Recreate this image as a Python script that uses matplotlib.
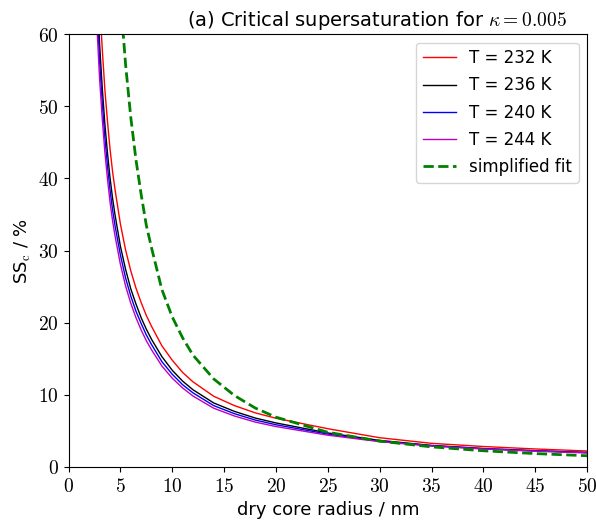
import matplotlib
matplotlib.use('Agg')
import matplotlib.pyplot as plt
from matplotlib.ticker import FuncFormatter, MultipleLocator

plt.rcParams['mathtext.fontset'] = 'cm'
plt.rcParams['font.family'] = 'DejaVu Sans'

# dry core radius (nm)
radius = [2.6, 2.8, 3.0, 3.25, 3.5, 3.75, 4.0, 4.25, 4.5, 5.0, 5.5, 6.0, 6.5,
          7.0, 7.5, 8.0, 9.0, 10, 11, 12, 14, 16, 18, 20, 25, 30, 35, 40, 45, 50]

# critical supersaturation (%) for each temperature
ss_232 = [78.5, 71.2, 64.4, 58.0, 52.4, 48.0, 44.1, 40.9, 38.3, 33.7, 30.1,
          27.2, 24.8, 22.8, 21.0, 19.5, 16.8, 14.8, 13.1, 11.8, 9.8, 8.5, 7.5,
          6.75, 5.3, 4.05, 3.27, 2.83, 2.49, 2.21]
ss_236 = [71.3, 64.6, 58.5, 52.6, 47.6, 43.6, 40.1, 37.2, 34.8, 30.6, 27.4,
          24.7, 22.6, 20.7, 19.1, 17.7, 15.3, 13.4, 11.9, 10.7, 8.87, 7.7,
          6.78, 6.1, 4.71, 3.68, 2.98, 2.55, 2.25, 2.0]
ss_240 = [68.3, 62.0, 56.1, 50.5, 45.7, 41.8, 38.4, 35.6, 33.3, 29.4, 26.2,
          23.7, 21.6, 19.9, 18.3, 16.98, 14.6, 12.85, 11.4, 10.27, 8.5, 7.38,
          6.5, 5.85, 4.55, 3.57, 2.95, 2.53, 2.22, 1.98]
ss_244 = [65.4, 59.3, 53.7, 48.3, 43.7, 40.0, 36.75, 34.1, 31.9, 28.1, 25.1,
          22.7, 20.7, 19.0, 17.5, 16.25, 14.0, 12.3, 10.95, 9.83, 8.14, 7.06,
          6.22, 5.6, 4.4, 3.5, 2.89, 2.48, 2.18, 1.94]

# simplified fit
fit_radius = [5.0, 5.5, 6.0, 6.5, 7.0, 7.5, 8.0, 9.0, 10, 11, 12, 14, 16, 18,
              20, 25, 30, 35, 40, 45, 50]
fit_ss = [65.1, 55.8, 48.5, 42.6, 37.8, 33.5, 30.4, 24.6, 20.8, 17.9, 15.5,
          12.2, 9.9, 8.17, 6.9, 4.8, 3.58, 2.78, 2.24, 1.85, 1.55]

temps = ['232', '236', '240', '244']
colors = ['r', 'k', 'b', 'm']

fig = plt.figure(figsize=(5.96, 5.27), dpi=100)
ax = fig.add_axes([0.115, 0.114, 0.87, 0.821])

for t, ss, c in zip(temps, [ss_232, ss_236, ss_240, ss_244], colors):
    ax.plot(radius, ss, color=c, lw=1, label='T = %s K' % t)
ax.plot(fit_radius, fit_ss, 'g--', lw=2, label='simplified fit')

ax.set_xlim(0, 50)
ax.set_ylim(0, 60)
ax.xaxis.set_major_locator(MultipleLocator(5))
ax.yaxis.set_major_locator(MultipleLocator(10))
fmt = FuncFormatter(lambda v, p: '$%g$' % v)
ax.xaxis.set_major_formatter(fmt)
ax.yaxis.set_major_formatter(fmt)
ax.tick_params(labelsize=14)

ax.set_xlabel('dry core radius / nm', fontsize=13)
ax.set_ylabel(r'SS$_{\mathrm{c}}$ / %', fontsize=13)
ax.set_title(r'(a) Critical supersaturation for $\kappa = 0.005$', fontsize=14,
             x=0.594)
ax.legend(loc='upper right', fontsize=12, labelspacing=0.55)

fig.savefig('out.png', dpi=100)
